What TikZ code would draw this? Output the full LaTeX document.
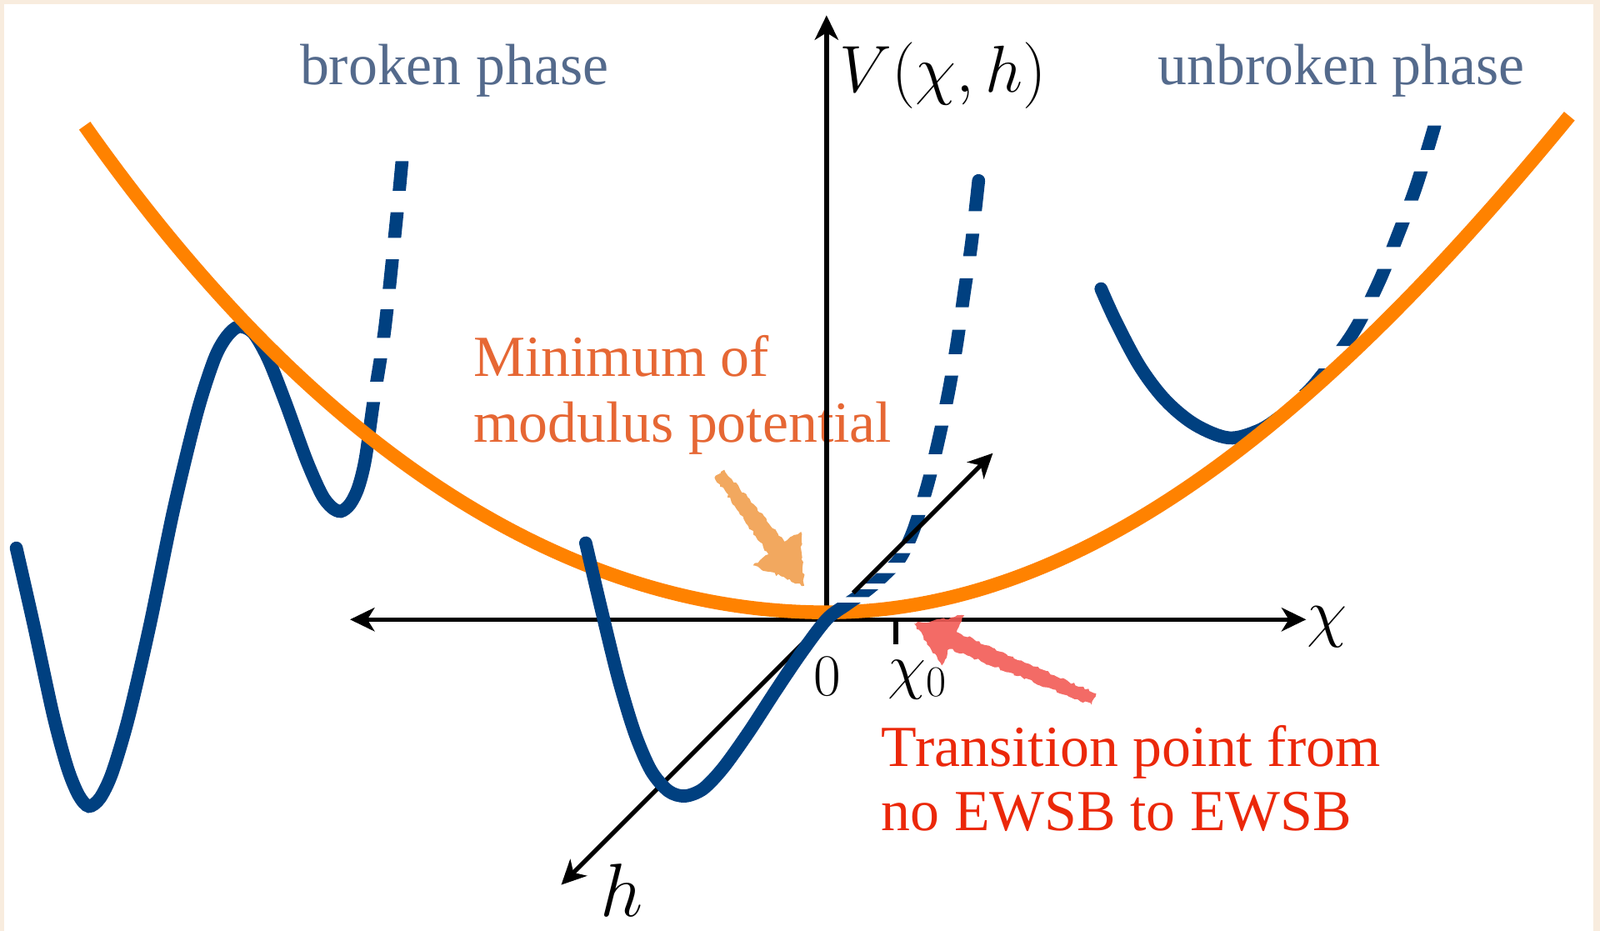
\RequirePackage{fix-cm}
\documentclass[tikz,border=0pt]{standalone}
\usepackage[no-math]{fontspec}
\setmainfont{Liberation Serif}
\usetikzlibrary{arrows.meta,decorations.pathmorphing}
\definecolor{bgbeige}{RGB}{248,236,222}
\definecolor{potblue}{RGB}{0,64,128}
\definecolor{modorange}{RGB}{255,130,0}
\definecolor{slatetext}{RGB}{84,106,140}
\definecolor{ortext}{RGB}{230,103,52}
\definecolor{redtext}{RGB}{235,40,10}
\definecolor{handorange}{RGB}{242,168,95}
\definecolor{handred}{RGB}{242,92,86}
\newcommand{\fsz}[1]{\fontsize{#1}{#1}\selectfont}
\begin{document}
\begin{tikzpicture}[x=1pt,y=-1pt,
  declare function={pl(\t)=600-8.29*(\t/100)*(\t/100)-0.01386*(\t/100)*(\t/100)*(\t/100)*(\t/100);
                    pr(\t)=600-9.98*(\t/100)*(\t/100)+0.0152*(\t/100)*(\t/100)*(\t/100)*(\t/100);},
  >={Stealth[length=24pt,width=23pt,inset=7pt]},
  axisline/.style={line width=4.4pt,draw=black},
  bluepot/.style={line width=12.8pt,draw=potblue,line cap=round},
  modpot/.style={line width=13.5pt,draw=modorange},
  lbl/.style={inner sep=0pt,outer sep=0pt},
  serifl/.style={lbl,anchor=base west,font=\fsz{57}},
  mathl/.style={lbl},
  hand/.style={decorate,decoration={random steps,segment length=3pt,amplitude=1.3pt}},
]
\useasboundingbox (0,0) rectangle (1568,912);
\fill[bgbeige] (0,0) rectangle (1568,912);
\fill[white] (4,4) rectangle (1561.5,912);

% texts
\node[serifl,text=slatetext] (broken) at (294,83) {broken phase};
\node[serifl,text=slatetext] (unbroken) at (1135,83) {unbroken phase};
\node[serifl,text=ortext] (min1) at (464,369) {Minimum of};
\node[serifl,text=ortext] (min2) at (464,433) {modulus potential};
\node[serifl,text=redtext] (tr1) at (864,751) {Transition point from};
\node[serifl,text=redtext] (tr2) at (864,814) {no EWSB to EWSB};

% axes
\coordinate (O) at (810,607);
\coordinate (xL) at (343,607);
\coordinate (xR) at (1280,607);
\coordinate (vTop) at (810,15);
\coordinate (hLow) at (550,867);
\coordinate (hUp) at (973,444);
\coordinate (hGap) at (836,581);
\coordinate (tickA) at (878,607);
\coordinate (tickB) at (878,631);
\draw[axisline,<->] (xL) -- (xR);
\draw[axisline,->] (O) -- (vTop);
\draw[axisline,->] (O) -- (hLow);
\draw[axisline,line width=4.6pt] (tickA) -- (tickB);

% broken phase curve
\begin{scope}
\clip (0,0) rectangle (345,912)
      (345,394) rectangle (430,912)
      (345,158) rectangle (430,187)
      (345,208) rectangle (430,233)
      (345,254) rectangle (430,283)
      (345,303) rectangle (430,331)
      (345,351) rectangle (430,374);
\draw[bluepot] plot[smooth,tension=0.5] coordinates {(16,537) (33,612) (52,700) (66,752) (77,779) (87,790) (98,782) (110,757) (126,703) (147,612) (170,500) (193,405) (210,352) (222,330) (234,320) (248,326) (263,352) (280,395) (300,450) (315,484) (325,497) (334,501) (343,494) (351,478) (358,450) (366,394) (377,323) (388,220) (394,158)};
\end{scope}

% unbroken phase curve
\begin{scope}
\clip (1050,0) rectangle (1240,912)
      (1240,404) rectangle (1450,912)
      (1240,123) rectangle (1450,147)
      (1240,168) rectangle (1450,196.5)
      (1240,218) rectangle (1450,242)
      (1240,263.5) rectangle (1450,291)
      (1240,312.5) rectangle (1450,339)
      (1240,361) rectangle (1450,383);
\draw[bluepot] plot[smooth,tension=0.55] coordinates {(1079,283) (1094,316) (1117,359) (1142,392) (1171,416) (1204,429) (1233,422) (1255,408) (1274,391) (1292,372) (1326,326) (1351,277) (1370,230) (1388,182) (1406,123)};
\end{scope}

% modulus potential
\draw[modpot] plot[domain=83:810,samples=90] (\x,{pl(\x-810)}) -- plot[domain=810:1538,samples=90] (\x,{pr(\x-810)});

% middle curve
\begin{scope}
\clip (500,0) rectangle (700,912)
      (700,606) rectangle (1050,912)
      (790,170) rectangle (1050,207)
      (790,229) rectangle (1050,251)
      (790,272.7) rectangle (1050,301)
      (790,323) rectangle (1050,347)
      (790,368) rectangle (1050,396)
      (790,417) rectangle (1050,445)
      (790,465) rectangle (1050,487)
      (790,504.6) rectangle (1050,532.3)
      (790,542) rectangle (1050,551.3)
      (790,561.5) rectangle (1050,571.7)
      (790,577.5) rectangle (1050,585)
      (790,590.5) rectangle (1050,606);
\draw[bluepot] plot[smooth,tension=0.5] coordinates {(574,532) (590,600) (606,665) (622,718) (638,755) (655,775) (671,780) (689,773) (709,752) (734,717) (760,677) (785,640) (810,607) (830,592) (850,578) (866,564) (882,547) (895,520) (909,475) (920,430) (930,382) (938,335) (945,286) (952,239) (959,177)};
\end{scope}

\draw[axisline,->] (hGap) -- (hUp);

% hand-drawn arrows
\fill[handorange,hand] (709.8,460.3) -- (768.9,530.9) -- (785,521) -- (788,574) -- (738,554) -- (753.1,543.1) -- (700.2,467.7) -- cycle;
\fill[handred,hand,fill opacity=0.9] (1074.3,679.5) -- (937.5,619.2) -- (945,603) -- (896,611) -- (923,652) -- (930.5,635.8) -- (1069.7,690.5) -- cycle;

% math labels
\node[mathl,anchor=base west,font=\fsz{65}] (Vlab) at (823,90) {$V(\chi,h)$};
\node[mathl,anchor=base west,font=\fsz{64}] (chilab) at (1281,622) {$\chi$};
\node[mathl,font=\fsz{58}] (zerolab) at (811,663) {$0$};
\node[mathl,anchor=base west,font=\fsz{61}] (chi0lab) at (870,673) {$\chi_0$};
\node[mathl,anchor=base west,font=\fsz{74}] (hlab) at (588,898) {$h$};
\end{tikzpicture}
\end{document}
